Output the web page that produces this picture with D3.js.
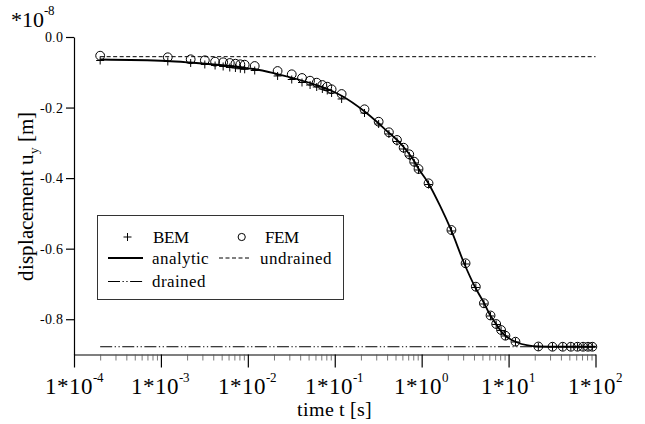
<!DOCTYPE html>
<html><head><meta charset="utf-8">
<script src="https://cdn.jsdelivr.net/npm/d3@7"></script>
<style>
@font-face { font-family: "ChartSerif"; src: local("Liberation Serif"), local("LiberationSerif"), local("Liberation Serif Regular"), local("LiberationSerif-Regular"); }
</style>
</head><body style="margin:0;background:#fff">
<svg id="chart" width="645" height="424" style="display:block"></svg>
<script>
// ---- data ----
const times = [2e-4,
  1.2e-3,2.2e-3,3.2e-3,4.2e-3,5.2e-3,6.2e-3,7.2e-3,8.2e-3,9.2e-3,
  1.2e-2,2.2e-2,3.2e-2,4.2e-2,5.2e-2,6.2e-2,7.2e-2,8.2e-2,9.2e-2,
  0.12,0.22,0.32,0.42,0.52,0.62,0.72,0.82,0.92,
  1.2,2.2,3.2,4.2,5.2,6.2,7.2,8.2,9.2,
  12,22,32,42,52,62,72,82,92];
const femValues = [-0.0530,
  -0.0575,-0.0632,-0.0660,-0.0700,-0.0717,-0.0737,-0.0757,-0.0774,-0.0785,
  -0.0822,-0.0964,-0.1057,-0.1162,-0.1239,-0.1295,-0.1361,-0.1409,-0.1482,
  -0.1616,-0.2049,-0.2401,-0.2701,-0.2919,-0.3138,-0.3325,-0.3535,-0.3741,
  -0.4147,-0.5471,-0.6414,-0.7078,-0.7548,-0.7894,-0.8135,-0.8305,-0.8467,
  -0.8637,-0.8773,-0.878,-0.878,-0.878,-0.878,-0.878,-0.878,-0.878];
const bemValues = [-0.0666,
  -0.0694,-0.0737,-0.0779,-0.0808,-0.0836,-0.0865,-0.0879,-0.0901,-0.0916,
  -0.0950,-0.1105,-0.1205,-0.1290,-0.1361,-0.1417,-0.1474,-0.1516,-0.1587,
  -0.1757,-0.2154,-0.2466,-0.2749,-0.2962,-0.3175,-0.3373,-0.3571,-0.3770,
  -0.4181,-0.5499,-0.6434,-0.7100,-0.7568,-0.7908,-0.8149,-0.8319,-0.8475,
  -0.8645,-0.878,-0.878,-0.878,-0.878,-0.878,-0.878,-0.878,-0.878];
const analyticTimes = [2e-4,1.17e-3,2.16e-3,4.08e-3,8.8e-3,1.18e-2,2.17e-2,3.14e-2,5.2e-2,9.3e-2,
  0.121,0.217,0.307,0.41,0.521,0.627,0.818,0.91,1.19,1.63,2.18,3.07,4.11,5.22,6.12,7.18,7.98,9.12,
  12.2,16.7,21.8,39,100];
const analyticValues = [-0.0638,-0.0680,-0.0723,-0.0779,-0.0865,-0.0907,-0.1049,-0.1148,-0.1304,-0.1531,
  -0.1672,-0.2098,-0.2409,-0.2693,-0.2920,-0.3132,-0.3515,-0.3713,-0.4138,-0.4790,-0.5470,-0.6406,-0.7086,-0.7540,-0.7880,-0.8135,-0.8305,-0.8461,
  -0.8645,-0.8744,-0.8773,-0.878,-0.878];
const undrainedValue = -0.0558;
const drainedValue = -0.878;
const lineRange = [2e-4, 100];
const xTicks = [1e-4,1e-3,1e-2,1e-1,1e0,1e1,1e2];
const xTickExponents = ["-4","-3","-2","-1","0","1","2"];
const yTicks = [0,-0.2,-0.4,-0.6,-0.8];
const yTickLabels = ["0.0","-0.2","-0.4","-0.6","-0.8"];

// ---- drawing ----
const FONT = "ChartSerif, 'Liberation Serif', 'Times New Roman', Tinos, monospace";
const svg = d3.select("#chart");
const x = d3.scaleLog().domain([1e-4, 1e2]).range([74, 595.5]);
const y = d3.scaleLinear().domain([-0.9, 0]).range([354.5, 37]);

// lines
const lineGen = d3.line().x(d => x(d[0])).y(d => y(d[1]));
svg.append("path")
  .datum(lineRange.map(t => [t, undrainedValue]))
  .attr("d", lineGen).attr("fill","none").attr("stroke","#000")
  .attr("stroke-width",1).attr("stroke-dasharray","4,2.5");
svg.append("path")
  .datum(lineRange.map(t => [t, drainedValue]))
  .attr("d", lineGen).attr("fill","none").attr("stroke","#000")
  .attr("stroke-width",1).attr("stroke-dasharray","12,2.5,1.3,2.5,1.3,2.5");
svg.append("path")
  .datum(analyticTimes.map((t,i) => [t, analyticValues[i]]))
  .attr("d", d3.line().x(d => x(d[0])).y(d => y(d[1])).curve(d3.curveMonotoneX))
  .attr("fill","none").attr("stroke","#000").attr("stroke-width",1.8);

// FEM circles
svg.append("g").selectAll("circle").data(times).join("circle")
  .attr("cx", d => x(d)).attr("cy", (d,i) => y(femValues[i]))
  .attr("r", 4.4).attr("fill","none").attr("stroke","#000").attr("stroke-width",1);
// BEM plus
svg.append("g").selectAll("path").data(times).join("path")
  .attr("transform", (d,i) => `translate(${x(d)},${y(bemValues[i])})`)
  .attr("d", "M-4,0H4M0,-4V4").attr("stroke","#000").attr("stroke-width",1).attr("fill","none");

// axes
const xAxis = svg.append("g").attr("transform","translate(0,354.5)")
  .call(d3.axisBottom(x).tickValues(xTicks).tickSize(13).tickSizeOuter(0).tickFormat(""));
xAxis.attr("font-family", null);
xAxis.select(".domain").attr("stroke","#000").attr("stroke-width",1.2);
xAxis.selectAll(".tick line").attr("stroke","#000").attr("stroke-width",1.2);
const minor = x.ticks().filter(t => !xTicks.some(m => Math.abs(m - t) / m < 1e-6));
const xMinor = svg.append("g").attr("transform","translate(0,354.5)")
  .call(d3.axisBottom(x).tickValues(minor).tickSize(6).tickFormat(""));
xMinor.select(".domain").remove();
xMinor.selectAll(".tick line").attr("stroke","#555").attr("stroke-width",0.8);

const yAxis = svg.append("g").attr("transform","translate(74,0)")
  .call(d3.axisLeft(y).tickValues(yTicks).tickSize(8).tickSizeOuter(0).tickPadding(3)
    .tickFormat((d,i) => yTickLabels[i]));
yAxis.attr("font-family", null).attr("font-size", 14);
yAxis.select(".domain").attr("stroke","#000").attr("stroke-width",1.2);
yAxis.selectAll(".tick line").attr("stroke","#000").attr("stroke-width",1.2);

const texts = svg.append("g");

texts.append("g").selectAll("text").data(xTicks).join("text")
  .attr("x", d => x(d)).attr("y", 394).attr("text-anchor","middle")
  .style("font-size", "23px")
  .each(function(d,i){
    const t = d3.select(this);
    t.append("tspan").text("1*10");
    t.append("tspan").attr("dy",-12).style("font-size","13px").text(xTickExponents[i]);
  });

// axis titles
texts.append("text").attr("x",334.5).attr("y",416).attr("text-anchor","middle")
  .style("font-size","20px").text("time t [s]");
const yl = texts.append("text").attr("transform","translate(33,196) rotate(-90)")
  .attr("text-anchor","middle").style("font-size","21px");
yl.append("tspan").text("displacement u");
yl.append("tspan").attr("dy",5).style("font-size","13px").text("y");
yl.append("tspan").attr("dy",-5).text(" [m]");

const sc = texts.append("text").attr("x",11).attr("y",27).style("font-size","22px");
sc.append("tspan").text("*10");
sc.append("tspan").attr("dy",-12).style("font-size","13px").text("-8");

// legend
const lg = svg.append("g");
lg.append("rect").attr("x",97.5).attr("y",215.5).attr("width",246).attr("height",84)
  .attr("fill","#fff").attr("stroke","#333").attr("stroke-width",1);
lg.append("path").attr("d","M123.5,237H131.5M127.5,233V241").attr("stroke","#000").attr("stroke-width",1);
lg.append("text").attr("x",153).attr("y",243).text("BEM");
lg.append("circle").attr("cx",241.7).attr("cy",237).attr("r",3.6).attr("fill","none").attr("stroke","#000");
lg.append("text").attr("x",265).attr("y",243).text("FEM");
lg.append("line").attr("x1",108).attr("x2",143).attr("y1",258).attr("y2",258).attr("stroke","#000").attr("stroke-width",1.8);
lg.append("text").attr("x",152).attr("y",264).text("analytic");
lg.append("line").attr("x1",219).attr("x2",251).attr("y1",258).attr("y2",258).attr("stroke","#000").attr("stroke-width",1).attr("stroke-dasharray","4,2.5");
lg.append("text").attr("x",260).attr("y",264).text("undrained");
lg.append("line").attr("x1",108).attr("x2",143).attr("y1",281.5).attr("y2",281.5).attr("stroke","#000").attr("stroke-width",1).attr("stroke-dasharray","12,2.5,1.3,2.5,1.3,2.5");
lg.append("text").attr("x",152).attr("y",287).text("drained");
lg.selectAll("text").style("font-size","17px");
yAxis.selectAll(".tick text").style("font-size","14px");

// serif font applied as inline style on every text element
svg.selectAll("text").style("font-family", FONT).attr("fill","#000");
</script>
</body></html>
